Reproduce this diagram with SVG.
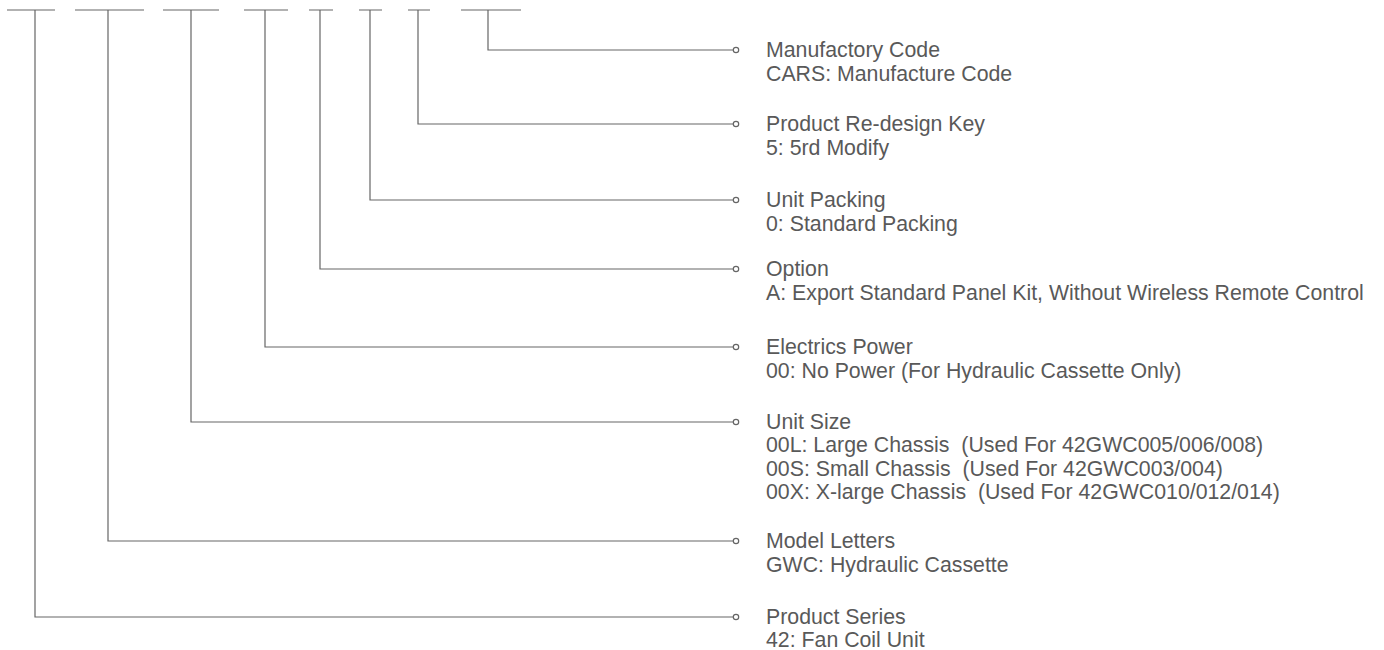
<svg xmlns="http://www.w3.org/2000/svg" width="1384" height="650" viewBox="0 0 1384 650">
<style>
.bar{stroke:#999;stroke-width:1.5;fill:none}
.ln{stroke:#666;stroke-width:1.2;fill:none}
.dot{stroke:#666;stroke-width:1.2;fill:#fff}
text{font-family:"Liberation Sans",Arial,sans-serif;font-size:21.3px;fill:#595959}
</style>
<rect width="1384" height="650" fill="#fff"/>
<g id="code-bars">
<line class="bar" x1="7" y1="10" x2="55" y2="10"/>
<line class="bar" x1="75" y1="10" x2="144" y2="10"/>
<line class="bar" x1="163" y1="10" x2="219" y2="10"/>
<line class="bar" x1="244" y1="10" x2="288" y2="10"/>
<line class="bar" x1="309" y1="10" x2="333" y2="10"/>
<line class="bar" x1="359" y1="10" x2="382" y2="10"/>
<line class="bar" x1="408" y1="10" x2="430" y2="10"/>
<line class="bar" x1="461" y1="10" x2="521" y2="10"/>
</g>
<g id="connectors">
<polyline class="ln" points="488,10 488,50 733,50"/>
<polyline class="ln" points="418,10 418,124 733,124"/>
<polyline class="ln" points="370,10 370,200 733,200"/>
<polyline class="ln" points="320,10 320,269 733,269"/>
<polyline class="ln" points="265,10 265,347 733,347"/>
<polyline class="ln" points="191,10 191,422 733,422"/>
<polyline class="ln" points="108,10 108,541 733,541"/>
<polyline class="ln" points="35,10 35,617 733,617"/>
<circle class="dot" cx="736" cy="50" r="2.7"/>
<circle class="dot" cx="736" cy="124" r="2.7"/>
<circle class="dot" cx="736" cy="200" r="2.7"/>
<circle class="dot" cx="736" cy="269" r="2.7"/>
<circle class="dot" cx="736" cy="347" r="2.7"/>
<circle class="dot" cx="736" cy="422" r="2.7"/>
<circle class="dot" cx="736" cy="541" r="2.7"/>
<circle class="dot" cx="736" cy="617" r="2.7"/>
</g>
<g id="manufactory-code">
<text x="766" y="57">Manufactory Code</text>
<text x="766" y="81">CARS: Manufacture Code</text>
</g>
<g id="redesign-key">
<text x="766" y="131">Product Re-design Key</text>
<text x="766" y="155">5: 5rd Modify</text>
</g>
<g id="unit-packing">
<text x="766" y="207">Unit Packing</text>
<text x="766" y="231">0: Standard Packing</text>
</g>
<g id="option">
<text x="766" y="276">Option</text>
<text x="766" y="299.5">A: Export Standard Panel Kit, Without Wireless Remote Control</text>
</g>
<g id="electrics-power">
<text x="766" y="354">Electrics Power</text>
<text x="766" y="377.5">00: No Power (For Hydraulic Cassette Only)</text>
</g>
<g id="unit-size">
<text x="766" y="428.5">Unit Size</text>
<text x="766" y="452" xml:space="preserve">00L: Large Chassis  (Used For 42GWC005/006/008)</text>
<text x="766" y="475.5" xml:space="preserve">00S: Small Chassis  (Used For 42GWC003/004)</text>
<text x="766" y="499" xml:space="preserve">00X: X-large Chassis  (Used For 42GWC010/012/014)</text>
</g>
<g id="model-letters">
<text x="766" y="548">Model Letters</text>
<text x="766" y="571.5">GWC: Hydraulic Cassette</text>
</g>
<g id="product-series">
<text x="766" y="624">Product Series</text>
<text x="766" y="647">42: Fan Coil Unit</text>
</g>
</svg>
